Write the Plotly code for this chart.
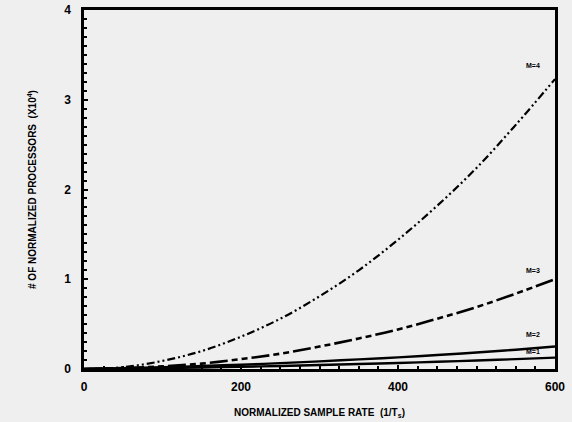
import plotly.graph_objects as go

sample_rate = [0, 50, 100, 150, 200, 250, 300, 350, 400, 450, 500, 550, 600]
curve_a = [0, 0.02, 0.09, 0.20, 0.36, 0.56, 0.81, 1.10, 1.44, 1.82, 2.24, 2.72, 3.23]
curve_b = [0, 0.01, 0.03, 0.06, 0.11, 0.17, 0.25, 0.34, 0.44, 0.56, 0.69, 0.84, 1.00]
curve_c = [0, 0.01, 0.02, 0.033, 0.048, 0.065, 0.085, 0.107, 0.13, 0.156, 0.184, 0.215, 0.25]
curve_d = [0, 0.005, 0.01, 0.017, 0.025, 0.034, 0.044, 0.055, 0.067, 0.08, 0.094, 0.11, 0.127]
curve_labels = ["M=4", "M=3", "M=2", "M=1"]
label_pos_y = [3.38, 1.1, 0.38, 0.19]
x_ticks = [0, 200, 400, 600]
y_ticks = [0, 1, 2, 3, 4]

fig = go.Figure()
styles = [
    ("8px,3px,2px,3px,2px,3px", 2.2),
    ("18px,4px,6px,4px,6px,4px", 2.6),
    ("solid", 2.4),
    ("solid", 2.4),
]
for ys, (dash, w) in zip([curve_a, curve_b, curve_c, curve_d], styles):
    fig.add_trace(go.Scatter(x=sample_rate, y=ys, mode="lines",
                             line=dict(color="black", width=w, dash=dash, shape="spline"),
                             showlegend=False, hoverinfo="skip"))

for lab, ly in zip(curve_labels, label_pos_y):
    fig.add_annotation(x=572, y=ly, text="<b>%s</b>" % lab, showarrow=False,
                       font=dict(family="Liberation Sans", size=7, color="black"))

axis_common = dict(showgrid=False, zeroline=False, showline=True, linecolor="black",
                   linewidth=2.5, mirror=True, ticks="inside", ticklen=4,
                   tickwidth=2, tickcolor="black", automargin=False,
                   ticklabeloverflow="allow",
                   tickfont=dict(family="Liberation Sans", size=12, color="black"))

fig.update_xaxes(range=[0, 600], tickvals=x_ticks,
                 ticktext=["<b>%d</b>" % v for v in x_ticks],
                 ticklabelstandoff=5,
                 minor=dict(ticks="inside", ticklen=3, tickwidth=1.5, tickcolor="black", dtick=25),
                 title=dict(text="<b>NORMALIZED SAMPLE RATE  (1/T<sub>s</sub>)</b>",
                            font=dict(family="Liberation Sans", size=10, color="black"),
                            standoff=16),
                 **axis_common)
fig.update_yaxes(range=[0, 4], tickvals=y_ticks,
                 ticktext=["<b>%d</b>" % v for v in y_ticks],
                 ticklabelstandoff=8,
                 minor=dict(ticks="inside", ticklen=3, tickwidth=1.5, tickcolor="black", dtick=0.1),
                 title=dict(text="<b># OF NORMALIZED PROCESSORS  (X10<sup>4</sup>)</b>",
                            font=dict(family="Liberation Sans", size=10, color="black"),
                            standoff=26),
                 **axis_common)

fig.update_layout(width=572, height=422,
                  margin=dict(l=84, r=17, t=10, b=53),
                  paper_bgcolor="#efefef", plot_bgcolor="#efefef")

fig.write_html("out.html", config={"displayModeBar": False},
               post_script="document.body.style.margin='0';document.body.style.background='#efefef';")
